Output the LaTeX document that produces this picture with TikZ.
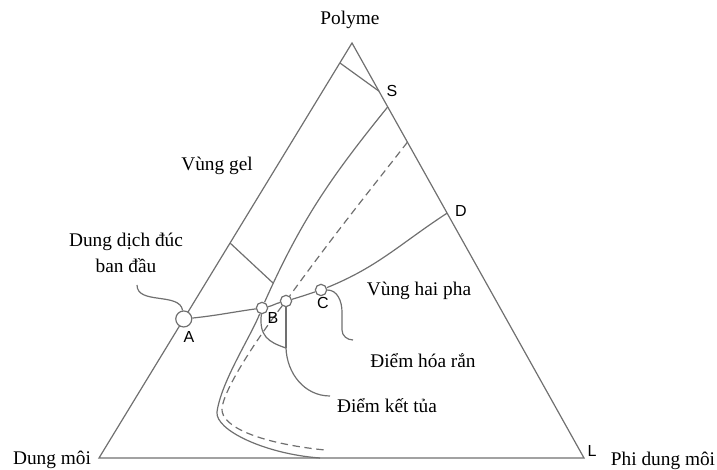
\documentclass[tikz,border=0pt]{standalone}
\usepackage{fontspec}
\setmainfont{Liberation Serif}
\newfontfamily\arialfont{Liberation Sans}
\usetikzlibrary{calc}
\definecolor{linegray}{RGB}{112,112,112}

\begin{document}
\begin{tikzpicture}[x=0.75pt, y=0.75pt, draw=linegray, line width=0.9pt,
  txt/.style={font=\fontsize{14.5}{19.5}\selectfont,align=center,inner sep=0pt,anchor=base},
  let/.style={font=\arialfont\fontsize{12}{14}\selectfont,inner sep=0pt,anchor=base},
  pt/.style={circle,draw,fill=white,inner sep=0pt,minimum size=8.5pt},
  bigpt/.style={pt,minimum size=12pt},
  dsh/.style={dash pattern=on 5.5pt off 3.5pt}]
\useasboundingbox (0,0) rectangle (717,470);
% corners
\coordinate (top) at (352,427);
\coordinate (ldm) at (99,12);
\coordinate (rnd) at (584,12);
\draw (ldm) -- (top) -- (rnd) -- cycle;
% points on the sides
\coordinate (tieL) at ($(top)!0.048!(ldm)$);
\coordinate (tieR) at ($(top)!0.116!(rnd)$);
\coordinate (solS) at ($(top)!0.154!(rnd)$);
\coordinate (dashS) at ($(top)!0.239!(rnd)$);
\coordinate (D) at ($(top)!0.41!(rnd)$);
\coordinate (gelL) at ($(top)!0.482!(ldm)$);
\coordinate (gelR) at (273,187);
% composition path points
\node[bigpt] (A) at ($(top)!0.665!(ldm)$) {};
\node[pt] (B) at (262,162) {};
\node[pt] (K) at (286,169) {};
\node[pt] (C) at (321,180) {};
% tie lines
\draw (tieL) -- (tieR);
\draw (gelL) -- (gelR);
% binodal and precipitation curves
\draw (solS) to[out=231,in=66] (B) .. controls (251,134) and (221,88) .. (217,58)
  .. controls (215,40) and (265,16) .. (320,12);
\draw[dsh] (dashS) to[out=232,in=54] (K) .. controls (265,142) and (225,85) .. (222,62)
  .. controls (220,42) and (265,26) .. (325,20);
\draw (A) to[out=6,in=188] (B) to[out=12,in=194] (K) to[out=16,in=198] (C) to[out=22,in=213] (D);
% labels
\node[txt] (poly) at (350,445) {Polyme};
\node[txt] (dm) at (52,5) {Dung môi};
\node[txt] (pdm) at (663,4) {Phi dung môi};
\node[txt] (gel) at (217,299) {Vùng gel};
\node[txt] (dd) at (126,197) {Dung dịch đúc\\ban đầu};
\node[txt] (hai) at (419,174) {Vùng hai pha};
\node[txt] (hoa) at (423,102) {Điểm hóa rắn};
\node[txt] (ket) at (387,57) {Điểm kết tủa};
\node[let] (labS) at (392,373) {S};
\node[let] (labD) at (461,253) {D};
\node[let] (labL) at (592,13) {L};
\node[let] (labA) at (189,127) {A};
\node[let] (labB) at (273,146) {B};
\node[let] (labC) at (323,161) {C};
% leaders
\coordinate (ddtip) at (137,185);
\coordinate (merge) at (286,122);
\coordinate (kettip) at (330,74);
\coordinate (hoatip) at (353,130);
\draw (ddtip) .. controls (137,165) and (180,178) .. (A);
\draw (B) .. controls (259,134) and (268,128) .. (merge);
\draw (K) -- (merge);
\draw (merge) to[out=-88,in=180] (kettip);
\draw (C) to[out=0,in=90] (342,158) -- (342,140) to[out=-90,in=180] (hoatip);
\end{tikzpicture}
\end{document}
